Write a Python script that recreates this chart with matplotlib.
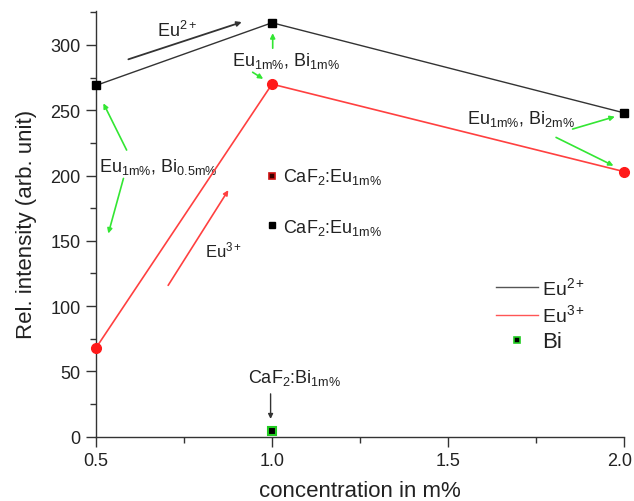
import matplotlib.pyplot as plt
import matplotlib.transforms as mtrans
from matplotlib.lines import Line2D
from matplotlib.ticker import MultipleLocator

plt.rcParams['font.family'] = ['Liberation Sans', 'DejaVu Sans']
plt.rcParams['mathtext.fontset'] = 'custom'
plt.rcParams['mathtext.rm'] = 'Liberation Sans'
plt.rcParams['mathtext.it'] = 'Liberation Sans'

# dados
concentracao = [0.5, 1.0, 2.0]
eu2 = [269, 317, 248]
eu3 = [68, 270, 203]
bi_x = [1.0]
bi = [4.5]
caf2_eu_x = [1.0, 1.0]
caf2_eu = [200, 162]      # Eu3+ (vermelho escuro), Eu2+ (preto)

txt = '#222222'
verde = '#33e633'

fig = plt.figure(figsize=(6.34, 5.02), dpi=100)
ax = fig.add_axes([96 / 634, 1 - 437.7 / 502, 528 / 634, 425.7 / 502])

ax.plot(concentracao, eu2, color='#333333', lw=1.0, marker='s', ms=6,
        mfc='black', mec='black', clip_on=False, zorder=4)
ax.plot(concentracao, eu3, color='#ff4040', lw=1.2, marker='o', ms=7,
        mfc='#ff1a1a', mec='#ff1a1a', clip_on=False, zorder=4)
ax.plot(bi_x, bi, ls='none', marker='s', ms=6, mfc='black', mec='#22cc22',
        mew=1.5, clip_on=False, zorder=5)
ax.plot(caf2_eu_x[0], caf2_eu[0], ls='none', marker='s', ms=5,
        mfc='#3a0000', mec='#cc1111', mew=1.2)
ax.plot(caf2_eu_x[1], caf2_eu[1], ls='none', marker='s', ms=5,
        mfc='black', mec='black')

ax.set_xlim(0.5, 2.0)
ax.set_ylim(0, 326)
ax.set_xticks([0.5, 1.0, 1.5, 2.0])
ax.set_xticklabels(['0.5', '1.0', '1.5', '2.0'])
ax.set_yticks(range(0, 301, 50))
ax.xaxis.set_minor_locator(MultipleLocator(0.25))
ax.yaxis.set_minor_locator(MultipleLocator(25))
ax.tick_params(which='major', length=7, width=1, color='#333333',
               labelsize=13, labelcolor=txt, pad=4)
ax.tick_params(which='minor', length=4, width=1, color='#333333')
for s in ['top', 'right']:
    ax.spines[s].set_visible(False)
for s in ['left', 'bottom']:
    ax.spines[s].set_color('#333333')
    ax.spines[s].set_linewidth(1.0)

# o ultimo rotulo encosta na borda, puxar um pouco pra esquerda
ultimo = ax.get_xticklabels()[-1]
ultimo.set_transform(ultimo.get_transform() +
                     mtrans.ScaledTranslation(-4 / 100, 0, fig.dpi_scale_trans))

ax.set_xlabel('concentration in m%', fontsize=16, color=txt, labelpad=8)
ax.set_ylabel('Rel. intensity (arb. unit)', fontsize=16, color=txt, labelpad=10)


def seta(x0, y0, x1, y1, cor=verde, lw=1.2):
    ax.annotate('', xy=(x1, y1), xytext=(x0, y0),
                arrowprops=dict(arrowstyle='-|>', color=cor, lw=lw,
                                mutation_scale=7, shrinkA=0, shrinkB=0))


fs = 13
# Eu2+
seta(0.592, 289, 0.914, 317.5, cor='#333333', lw=1.3)
ax.text(0.673, 306.8, r'Eu$^{\mathregular{2+}}$', fontsize=fs, color=txt,
        va='baseline')

# Eu 1m%, Bi 1m%
seta(1.002, 297.5, 1.002, 309)
seta(0.945, 279.1, 0.975, 274)
ax.text(0.886, 284.5, r'Eu$_{\mathregular{1m\%}}$, Bi$_{\mathregular{1m\%}}$',
        fontsize=fs, color=txt, va='baseline')

# Eu 1m%, Bi 2m%
ax.text(1.553, 240, r'Eu$_{\mathregular{1m\%}}$, Bi$_{\mathregular{2m\%}}$',
        fontsize=fs, color=txt, va='baseline')
seta(1.854, 235.6, 1.974, 245.1)
seta(1.807, 229.2, 1.970, 207.5)

# Eu 1m%, Bi 0.5m%
ax.text(0.509, 203.1, r'Eu$_{\mathregular{1m\%}}$, Bi$_{\mathregular{0.5m\%}}$',
        fontsize=fs, color=txt, va='baseline')
seta(0.587, 219.5, 0.521, 255.3)
seta(0.578, 197.8, 0.535, 155.6)

# Eu3+
seta(0.705, 115.9, 0.876, 188.8, cor='#ff4040', lw=1.2)
ax.text(0.810, 137.9, r'Eu$^{\mathregular{3+}}$', fontsize=12, color=txt,
        va='baseline')

# CaF2:Eu
ax.text(1.032, 196, r'CaF$_{\mathregular{2}}$:Eu$_{\mathregular{1m\%}}$',
        fontsize=fs, color=txt, va='baseline')
ax.text(1.032, 157, r'CaF$_{\mathregular{2}}$:Eu$_{\mathregular{1m\%}}$',
        fontsize=fs, color=txt, va='baseline')

# CaF2:Bi
ax.text(0.933, 42, r'CaF$_{\mathregular{2}}$:Bi$_{\mathregular{1m\%}}$',
        fontsize=fs, color=txt, va='baseline')
seta(0.996, 32.8, 0.996, 13.6, cor='#333333', lw=1.0)

handles = [Line2D([], [], color='#555555', lw=1.0),
           Line2D([], [], color='#ff5555', lw=1.0),
           Line2D([], [], ls='none', marker='s', ms=5, mfc='black',
                  mec='#22cc22', mew=1.2)]
leg = ax.legend(handles, [r'Eu$^{\mathregular{2+}}$', r'Eu$^{\mathregular{3+}}$', 'Bi'],
                loc='upper left', bbox_to_anchor=(0.757, 0.378), frameon=False,
                fontsize=14, handlelength=2.2, handletextpad=0.2, borderpad=0,
                borderaxespad=0, labelspacing=0.3, labelcolor=txt)
leg.get_texts()[2].set_fontsize(16)

fig.savefig('out.png', dpi=100)
